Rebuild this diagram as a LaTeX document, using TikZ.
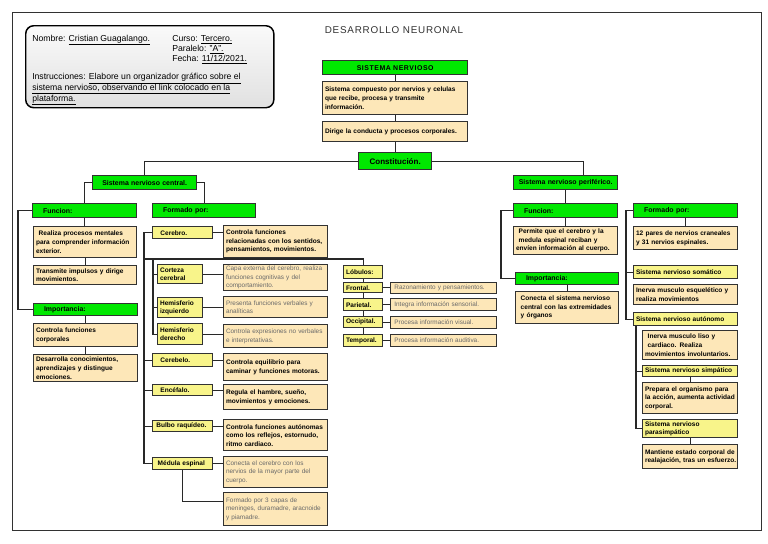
\documentclass[tikz,border=0pt]{standalone}
\usepackage{fontspec}
\setmainfont{Liberation Sans}
\usetikzlibrary{calc}
\definecolor{gn}{RGB}{0,232,0}
\definecolor{bg}{RGB}{253,231,184}
\definecolor{yl}{RGB}{248,244,138}
\definecolor{bd}{RGB}{50,50,50}
\definecolor{cn}{RGB}{40,40,40}
\definecolor{gtx}{RGB}{105,105,105}
\definecolor{ttl}{RGB}{50,50,50}
\newcommand\tb{\fontsize{4.9}{6.4}\selectfont\bfseries}
\newcommand\tg{\fontsize{4.8}{6.3}\selectfont}
\newcommand\lbl{\fontsize{5.2}{6.4}\selectfont\bfseries}
\newcommand\infofont{\fontsize{6.5}{8}\selectfont}
\tikzset{
  geo/.style args={#1/#2/#3/#4}{anchor=north west, at={(#1,#2)},
    minimum width={(#3-#1)*0.75pt}, minimum height={(#4-#2)*0.75pt},
    text width={(#3-#1)*0.75pt-3.6pt}},
  bx/.style={draw=bd, line width=1pt, inner xsep=1.8pt, inner ysep=0.5pt, align=left,
    execute at begin node={\hyphenpenalty=10000\exhyphenpenalty=10000}},
  gbox/.style={bx, fill=gn, font=\lbl},
  ybox/.style={bx, fill=yl, font=\tb},
  dbox/.style={bx, fill=bg, font=\tb},
  dgbox/.style={bx, fill=bg, font=\tg, text=gtx},
  con/.style={draw=cn, line width=0.8pt},
  itxt/.style={anchor=base west, font=\infofont, inner sep=0pt},
}
\begin{document}
\begin{tikzpicture}[x=0.75pt,y=-0.75pt]
\useasboundingbox (0,0) rectangle (768,543);
\fill[white] (0,0) rectangle (768,543);
\node[geo=12/12/757/530, draw=bd, line width=0.8pt] (frame) {};
% info box
\node[geo=25/25/269/107, draw=black, line width=1.1pt, rounded corners=6pt, top color=gray!4, bottom color=gray!24] (info) {};
\node[itxt] (nom) at (32,41) {Nombre: \underline{Cristian Guagalango.}};
\node[itxt] (cur) at (172,41) {Curso: \underline{Tercero.}};
\node[itxt] (par) at (172,51.3) {Paralelo: \underline{"A".}};
\node[itxt] (fec) at (172,61.7) {Fecha: \underline{11/12/2021.}};
\node[itxt] (ins1) at (32,79.7) {Instrucciones: \underline{Elabore un organizador gráfico sobre el}};
\node[itxt] (ins2) at (32,90.3) {\underline{sistema nervioso, observando el link colocado en la}};
\node[itxt] (ins3) at (32,101) {\underline{plataforma.}};
% title
\node[font=\fontsize{7.4}{9}\selectfont\addfontfeature{LetterSpace=8}, text=ttl] (title) at (394,30) {DESARROLLO NEURONAL};
% top chain
\node[gbox, geo=322/60/467/74, align=center, font=\lbl\addfontfeature{LetterSpace=8}] (snm) {SISTEMA NERVIOSO};
\node[dbox, geo=322/81/467/114] (def1) {\mbox{Sistema compuesto por nervios y celulas}\\que recibe, procesa y transmite\\información.};
\node[dbox, geo=322/121/467/141] (def2) {\mbox{Dirige la conducta y procesos corporales.}};
\node[gbox, geo=358/152/431/169, align=center, font=\fontsize{6}{7}\selectfont\bfseries] (const) {Constitución.};
\node[gbox, geo=92/175/196/189, align=center] (snc) {Sistema nervioso central.};
\node[gbox, geo=513/175/617/189, align=center] (snp) {\mbox{Sistema nervioso periférico.}};
% left column
\node[gbox, geo=32/203/136/217] (fun1) {\hspace*{6pt}Funcion:};
\node[dbox, geo=33/226/136/257] (realiza) {\hspace*{2pt}Realiza procesos mentales\\\mbox{para comprender información}\\exterior.};
\node[dbox, geo=33/265/136/284] (transm) {\mbox{Transmite impulsos y dirige}\\movimientos.};
\node[gbox, geo=33/303/137/315] (imp1) {\hspace*{6pt}Importancia:};
\node[dbox, geo=33/323/137/346] (ctrl) {Controla funciones\\corporales};
\node[dbox, geo=33/354/137/381] (desa) {Desarrolla conocimientos,\\aprendizajes y distingue\\emociones.};
% formado por (SNC)
\node[gbox, geo=152/203/255/217] (form1) {\hspace*{6pt}Formado por:};
\node[ybox, geo=152/226/212/238] (cerebro) {\hspace*{4pt}Cerebro.};
\node[dbox, geo=223/225/327/257] (cerd) {Controla funciones\\\mbox{relacionadas con los sentidos,}\\\mbox{pensamientos, movimientos.}};
\node[ybox, geo=157/264/202/283] (corteza) {Corteza\\cerebral};
\node[dgbox, geo=223/264/327/290] (cortd) {\mbox{Capa externa del cerebro, realiza}\\funciones cognitivas y del\\comportamiento.};
\node[ybox, geo=157/297/202/317] (hizq) {Hemisferio\\izquierdo};
\node[dgbox, geo=223/296/327/317] (hizqd) {Presenta funciones verbales y\\analíticas};
\node[ybox, geo=157/323/202/344] (hder) {Hemisferio\\derecho};
\node[dgbox, geo=223/324/327/347] (hderd) {\mbox{Controla expresiones no verbales}\\e interpretativas.};
\node[ybox, geo=152/353/212/366] (cerebelo) {\hspace*{4pt}Cerebelo.};
\node[dbox, geo=223/353/327/380] (cerebelod) {Controla equilibrio para\\\mbox{caminar y funciones motoras.}};
\node[ybox, geo=152/384/212/395] (encef) {\hspace*{4pt}Encéfalo.};
\node[dbox, geo=223/384/327/409] (encefd) {Regula el hambre, sueño,\\\mbox{movimientos y emociones.}};
\node[ybox, geo=152/420/212/431] (bulbo) {\mbox{\hspace*{1pt}Bulbo raquídeo.}};
\node[dbox, geo=223/419/327/450] (bulbod) {\mbox{Controla funciones autónomas}\\\mbox{como los reflejos, estornudo,}\\ritmo cardiaco.};
\node[ybox, geo=152/457/212/469] (medula) {\mbox{\hspace*{2pt}Médula espinal}};
\node[dgbox, geo=223/456/327/487] (medd1) {Conecta el cerebro con los\\\mbox{nervios de la mayor parte del}\\cuerpo.};
\node[dgbox, geo=223/492/327/525] (medd2) {Formado por 3 capas de\\\mbox{meninges, duramadre, aracnoide}\\y piamadre.};
% lobulos
\node[ybox, geo=343/265/382/278] (lob) {Lóbulos:};
\node[ybox, geo=343/282/382/292] (front) {Frontal.};
\node[ybox, geo=343/298/382/310] (pariet) {Parietal.};
\node[ybox, geo=343/316/382/327] (occip) {Occipital.};
\node[ybox, geo=343/334/382/346] (temp) {Temporal.};
\node[dgbox, geo=390/282/496/293] (frontd) {\hspace*{1pt}Razonamiento y pensamientos.};
\node[dgbox, geo=390/298/496/310] (parietd) {\hspace*{1pt}Integra información sensorial.};
\node[dgbox, geo=390/316/496/328] (occipd) {\hspace*{1pt}Procesa información visual.};
\node[dgbox, geo=390/334/496/346] (tempd) {\hspace*{1pt}Procesa información auditiva.};
% SNP
\node[gbox, geo=513/203/617/217] (fun2) {\hspace*{6pt}Funcion:};
\node[dbox, geo=513/226/617/254] (perm) {\hspace*{2pt}Permite que el cerebro y la\\\hspace*{2pt}medula espinal reciban y\\\mbox{envíen información al cuerpo.}};
\node[gbox, geo=515/272/618/284] (imp2) {\hspace*{6pt}Importancia:};
\node[dbox, geo=515/291/618/323] (conecta) {\hspace*{2pt}Conecta el sistema nervioso\\\mbox{\hspace*{2pt}central con las extremidades}\\\hspace*{2pt}y órganos};
\node[gbox, geo=633/203/737/217] (form2) {\hspace*{6pt}Formado por:};
\node[dbox, geo=633/226/737/249] (pares) {\mbox{12 pares de nervios craneales}\\y 31 nervios espinales.};
\node[ybox, geo=633/265/737/278] (soma) {\mbox{Sistema nervioso somático}};
\node[dbox, geo=633/284/737/304] (somad) {\mbox{Inerva musculo esquelético y}\\realiza movimientos};
\node[ybox, geo=633/312/737/325] (auto) {\mbox{Sistema nervioso autónomo}};
\node[dbox, geo=642/330/737/359] (inerva) {\hspace*{2pt}Inerva musculo liso y\\\hspace*{2pt}cardiaco. Realiza\\\mbox{movimientos involuntarios.}};
\node[ybox, geo=642/365/737/376] (simp) {\mbox{Sistema nervioso simpático}};
\node[dbox, geo=642/382/737/413] (prep) {\mbox{Prepara el organismo para}\\\mbox{la acción, aumenta actividad}\\corporal.};
\node[ybox, geo=642/419/737/437] (para) {Sistema nervioso\\parasimpático};
\node[dbox, geo=642/444/737/468] (mant) {\mbox{Mantiene estado corporal de}\\\mbox{realajación, tras un esfuerzo.}};
% connectors
\draw[con] (snm.south) -- (def1.north);
\draw[con] (def1.south) -- (def2.north);
\draw[con] (def2.south) -- (const.north);
\draw[con] (const.west) -| (snc.north);
\draw[con] (const.east) -| ([xshift=13.5pt]snp.north);
\draw[con] (snc.west) -| (fun1.north);
\draw[con] (snc.east) -| (form1.north);
\draw[con] (fun1.south) -- (fun1.south |- realiza.north);
\draw[con] (realiza.south) -- (realiza.south |- transm.north);
\draw[con] (fun1.west) -- ++(-14,0) |- (imp1.west);
\draw[con] (imp1.south) -- (imp1.south |- ctrl.north);
\draw[con] (ctrl.south) -- (ctrl.south |- desa.north);
\draw[con] (cerebro.west) -- ++(-8,0) |- (medula.west);
\draw[con] (cerebelo.west) -- ++(-8,0);
\draw[con] (encef.west) -- ++(-8,0);
\draw[con] (bulbo.west) -- ++(-8,0);
\coordinate (j1) at (144,259);
\coordinate (j2) at (153,259);
\draw[con] (j1) -| (lob.north);
\draw[con] (j2) |- (hder.west);
\draw[con] (corteza.west) -- ++(-4,0);
\draw[con] (hizq.west) -- ++(-4,0);
\foreach \a/\b in {cerebro/cerd, corteza/cortd, hizq/hizqd, hder/hderd, cerebelo/cerebelod, encef/encefd, bulbo/bulbod, medula/medd1, front/frontd, pariet/parietd, occip/occipd, temp/tempd}
  \draw[con] (\a.east) -- (\a.east -| \b.west);
\draw[con] (medula.south) |- ([yshift=6pt]medd2.west);
\draw[con] (lob.south) -- (lob.south |- front.north);
\draw[con] (front.south) -- (front.south |- pariet.north);
\draw[con] (pariet.south) -- (pariet.south |- occip.north);
\draw[con] (occip.south) -- (occip.south |- temp.north);
\draw[con] (snp.south) -- (fun2.north);
\draw[con] (fun2.south) -- (perm.north);
\draw[con] (fun2.west) -- ++(-12,0) |- (imp2.west);
\draw[con] (imp2.south) -- (imp2.south |- conecta.north);
\draw[con] (form2.south) -- (pares.north);
\draw[con] (form2.west) -- ++(-7,0) |- (auto.west);
\draw[con] (soma.west) -- ++(-7,0);
\draw[con] ([xshift=2.25pt]auto.south west) |- (para.west);
\draw[con] (simp.west) -- ++(-6,0);
\draw[con] (simp.south) -- (simp.south |- prep.north);
\draw[con] (para.south) -- (para.south |- mant.north);
\end{tikzpicture}
\end{document}
